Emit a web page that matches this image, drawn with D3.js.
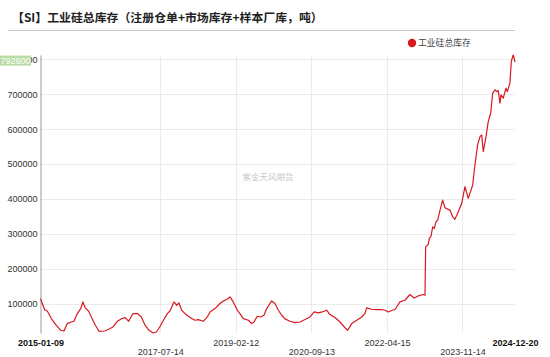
<!DOCTYPE html>
<html><head><meta charset="utf-8">
<script src="https://cdn.jsdelivr.net/npm/d3@7"></script>
<style>body{margin:0;background:#fff}svg{display:block}</style>
</head><body>
<script>
const titleText = "【SI】工业硅总库存（注册仓单+市场库存+样本厂库，吨）";
const seriesName = "工业硅总库存";
const watermark = "紫金天风期货";
const lastLabel = "792600";
const dates = ["2015-01-09","2015-01-23","2015-02-10","2015-03-02","2015-04-02","2015-05-10","2015-06-13","2015-07-08","2015-08-02","2015-09-02","2015-09-22","2015-10-18","2015-11-13","2015-11-30","2015-12-18","2016-01-13","2016-02-02","2016-03-04","2016-04-01","2016-05-15","2016-06-14","2016-07-17","2016-08-19","2016-09-24","2016-10-19","2016-11-14","2016-12-17","2017-01-19","2017-02-19","2017-03-17","2017-04-19","2017-05-19","2017-06-14","2017-07-10","2017-08-04","2017-09-06","2017-09-26","2017-10-27","2017-11-17","2017-12-04","2017-12-25","2018-01-19","2018-02-14","2018-03-12","2018-04-06","2018-05-01","2018-06-08","2018-07-09","2018-07-30","2018-09-06","2018-10-14","2018-11-09","2018-12-05","2018-12-30","2019-01-24","2019-02-24","2019-03-16","2019-04-11","2019-05-19","2019-06-14","2019-07-02","2019-07-27","2019-08-22","2019-09-16","2019-10-07","2019-11-14","2019-12-09","2020-01-04","2020-01-30","2020-02-24","2020-04-02","2020-05-10","2020-06-18","2020-07-26","2020-09-02","2020-10-05","2020-11-05","2020-12-06","2021-01-08","2021-02-02","2021-03-13","2021-04-20","2021-05-23","2021-06-18","2021-07-19","2021-08-26","2021-10-03","2021-10-28","2021-11-10","2021-12-19","2022-01-26","2022-03-05","2022-03-30","2022-04-25","2022-05-25","2022-06-15","2022-07-23","2022-08-30","2022-10-08","2022-11-08","2022-12-10","2023-01-18","2023-01-31","2023-02-05","2023-02-25","2023-03-05","2023-03-18","2023-03-31","2023-04-12","2023-04-25","2023-05-08","2023-05-26","2023-06-15","2023-07-03","2023-07-28","2023-08-10","2023-08-31","2023-09-17","2023-10-13","2023-11-08","2023-12-03","2023-12-28","2024-01-31","2024-02-18","2024-03-09","2024-03-27","2024-04-09","2024-04-21","2024-05-12","2024-05-29","2024-06-17","2024-07-02","2024-07-20","2024-08-02","2024-08-14","2024-08-27","2024-09-04","2024-09-21","2024-10-12","2024-10-22","2024-11-11","2024-11-22","2024-12-06","2024-12-13","2024-12-20"];
const values = [114000,100000,82000,78700,56900,37600,23300,21300,42500,47100,49100,71200,85600,104600,87400,77900,61500,37600,20400,21300,26100,32800,49100,56900,59800,49100,71200,71200,61500,39700,23300,15500,18400,32800,50000,71200,78700,104600,95100,101700,80800,71200,63500,56900,52000,54000,49100,61500,75900,85600,100000,107500,111500,119000,104600,80800,71200,56900,52000,42500,47100,63500,61500,66400,85600,107500,100000,80800,66400,56000,49100,45300,47100,54000,61500,75900,73000,75900,80800,68400,59800,47100,32800,23300,42500,52000,61500,71200,87400,83600,82800,82800,80800,75900,80800,82800,104600,109500,125900,116100,121800,125900,123800,262600,269500,286800,293400,320100,315500,334500,339400,368100,396800,374700,370100,368100,348900,341400,363200,387400,435100,401700,440000,500000,554900,578700,583600,535700,578700,621800,645900,703300,712900,708000,710900,674600,698400,689000,717700,708000,732000,795000,812900,805000,792600];
const xTickDates = ["2015-01-09","2017-07-14","2019-02-12","2020-09-13","2022-04-15","2023-11-14","2024-12-20"];
const yTicks = [100000,200000,300000,400000,500000,600000,700000,800000];

const W=550,H=357;
const svg=d3.select("body").append("svg").attr("width",W).attr("height",H);
const parse=d3.timeParse("%Y-%m-%d");
const data=dates.map((d,i)=>({date:parse(d),value:values[i]}));
const L=40.5,R=515,T=55,B=333;
const x=d3.scaleTime().domain([parse(dates[0]),parse(dates[dates.length-1])]).range([L,R]);
const y=d3.scaleLinear().domain(d3.extent(values)).range([B,T]);

// title
svg.append("text").attr("x",12).attr("y",22).attr("font-family","Noto Sans CJK SC").attr("font-weight",700)
  .attr("font-size",11.9).attr("fill","#222").text(titleText);
svg.append("line").attr("x1",8).attr("x2",515).attr("y1",30.5).attr("y2",30.5).attr("stroke","#c8c8c8").attr("stroke-width",1);

// grid
svg.append("g").selectAll("line").data(yTicks).join("line")
  .attr("x1",L).attr("x2",R).attr("y1",d=>Math.round(y(d))+0.5).attr("y2",d=>Math.round(y(d))+0.5)
  .attr("stroke","#ebebeb").attr("stroke-width",1);
svg.append("g").selectAll("line").data(xTickDates.slice(1,-1)).join("line")
  .attr("x1",d=>Math.round(x(parse(d)))+0.5).attr("x2",d=>Math.round(x(parse(d)))+0.5).attr("y1",T).attr("y2",B)
  .attr("stroke","#ebebeb").attr("stroke-width",1);

// watermark
svg.append("text").attr("x",268).attr("y",180).attr("text-anchor","middle").attr("font-family","Noto Sans CJK SC")
  .attr("font-size",8.5).attr("fill","#c8c8c8").text(watermark);

// y axis
const yAxis=d3.axisLeft(y).tickValues(yTicks).tickSize(0).tickPadding(3).tickFormat(d3.format("d"));
const gy=svg.append("g").attr("transform",`translate(${L},0)`).call(yAxis);
gy.select(".domain").attr("stroke","#999");
gy.selectAll("text").attr("font-family","Liberation Sans, Arial").attr("font-size",9).attr("fill","#333");

// x axis labels
const xAxis=d3.axisBottom(x).tickValues(xTickDates.map(parse)).tickSize(0).tickFormat(d3.timeFormat("%Y-%m-%d"));
const gx=svg.append("g").attr("transform",`translate(0,${B})`).call(xAxis);
gx.select(".domain").remove();
gx.selectAll("text").attr("font-family","Liberation Sans, Arial").attr("font-size",9)
  .attr("fill",(d,i)=>(i===0||i===xTickDates.length-1)?"#111":"#333")
  .attr("font-weight",(d,i)=>(i===0||i===xTickDates.length-1)?"bold":"normal")
  .attr("dy",null).attr("y",(d,i)=>i%2===0?12.5:21.5);

// line
svg.append("path").datum(data).attr("fill","none").attr("stroke","#d7191f").attr("stroke-width",1.2)
  .attr("stroke-linejoin","round")
  .attr("d",d3.line().x(d=>x(d.date)).y(d=>y(d.value)));

// last value label
const lv=+lastLabel;
svg.append("rect").attr("x",0).attr("y",y(lv)-6.5).attr("width",31).attr("height",10).attr("fill","#b9dba5");
svg.append("text").attr("x",15.5).attr("y",y(lv)+1.8).attr("text-anchor","middle").attr("font-family","Liberation Sans, Arial")
  .attr("font-size",9).attr("fill","#fff").text(lastLabel);

// legend
svg.append("circle").attr("cx",412).attr("cy",43).attr("r",4.2).attr("fill","#d7191f");
svg.append("text").attr("x",418).attr("y",46.3).attr("font-family","Noto Sans CJK SC").attr("font-size",8.8)
  .attr("fill","#444").text(seriesName);
</script>
</body></html>
